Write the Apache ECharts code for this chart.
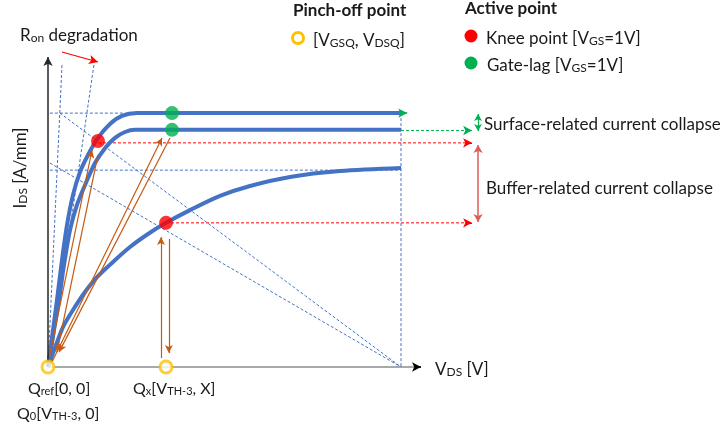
<!DOCTYPE html>
<html><head><meta charset="utf-8">
<script src="https://cdn.jsdelivr.net/npm/echarts@6/dist/echarts.min.js"></script>
<style>html,body{margin:0;padding:0;background:#fff}#c{width:727px;height:429px}</style>
</head><body><div id="c"></div>
<script>
// ---- data (normalised V_DS / I_DS units) ----
const curveRef = [[0,0],[1.34,11.9],[2.41,21.6],[3.75,34.5],[5.09,45.8],[6.7,55.5],[8.58,62.9],[10.72,68.4],[13.4,73.9],[16.62,78.4],[19.84,81.0],[23.86,81.9],[40,81.9],[94.64,81.9]];
const curveGateLag = [[0,0],[1.61,11.9],[2.95,21.6],[4.29,32.9],[5.9,44.2],[7.77,52.3],[9.92,58.7],[12.6,65.8],[15.28,70.6],[17.96,73.9],[20.64,75.8],[23.32,76.5],[40,76.5],[94.64,76.5]];
const curveBuffer = [[0,0],[2.14,7.1],[4.02,12.9],[6.7,18.4],[9.92,24.2],[13.14,29.0],[17.43,33.9],[21.98,38.7],[26.81,42.9],[31.64,46.5],[38.07,50.6],[46.11,55.2],[54.16,58.4],[64.88,61.3],[78.28,63.2],[94.64,64.2]];
const kneePoints = [[13.4,72.9],[31.64,46.5]];
const gateLagPoints = [[33.24,81.9],[33.24,76.5]];
const pinchOffPoints = [[0,0],[31.64,0]];
const blueGuides = [
  [[0.5,81.9],[23.9,81.9]],
  [[0.5,63.5],[94.64,63.5]],
  [[94.64,81.9],[94.64,0]],
  [[3.2,81.9],[94.64,0]],
  [[0.5,65.8],[94.64,0]],
  [[3.75,97.4],[0,0]],
  [[12.3,97.4],[0.5,0]]
];
const orangeArrows = [
  [[0.3,2.9],[11.8,70.0]],
  [[13.4,68.4],[2.4,4.8]],
  [[1.07,1.6],[30.56,73.9]],
  [[32.7,73.9],[2.95,4.8]],
  [[30.3,2.9],[30.3,41.9]],
  [[32.4,41.3],[32.4,4.5]]
];
const redGuides = [[[13.4,72.3],[113.0,72.3]],[[31.64,46.5],[113.0,46.5]]];
const redGuideHeads = [[[112.0,72.3],[113.7,72.3]],[[112.0,46.5],[113.7,46.5]]];
const greenGuides = [[[94.64,76.3],[113.0,76.3]]];
const greenGuideHeads = [[[112.0,76.3],[113.7,76.3]]];
const greenEndArrow = [[[94.64,81.9],[96.3,81.9]]];
const surfaceSpan = [[[115.3,81.6],[115.3,76.1]]];
const bufferSpan = [[[115.3,71.6],[115.3,46.8]]];
const ronArrow = [[[3.75,101.6],[13.4,98.4]]];
const xAxisLine = [[[0,0],[100,0]]];
const xAxisHead = [[[98.5,0],[100,0]]];
const yAxisLine = [[[0,0],[0,100]]];

const FONT = 'Lato, "Open Sans", sans-serif';
const BLUE = '#4472C4', ORANGE = '#C55A11', RED = '#FF0000', GREEN = '#00B050', GOLD = '#FFC000';

const chart = echarts.init(document.getElementById('c'), null, {renderer:'canvas'});

function lineSeries(pts, color, width, type, z, smooth){
  return {type:'line', data:pts, showSymbol:false, symbol:'none', smooth: smooth||false,
    clip:false, silent:true, z:z, color:color,
    lineStyle:{color:color, width:width, type:type}};
}
function markSeries(segs, color, width, type, symbols, size, z){
  const ls = {color:color, width:width, type:type, opacity:1};
  return {type:'line', data:[], clip:false, silent:true, z:z, color:color,
    markLine:{silent:true, animation:false, symbol:symbols, symbolSize:size,
      label:{show:false}, emphasis:{disabled:true},
      itemStyle:{color:color},
      lineStyle:ls,
      data: segs.map(s => [{coord:s[0], lineStyle:ls},{coord:s[1]}])}};
}

const series = [];
blueGuides.forEach(g => series.push(lineSeries(g, BLUE, 1, [3,2], 1)));
redGuides.forEach(g => series.push(lineSeries(g, RED, 1, [3,2], 2)));
greenGuides.forEach(g => series.push(lineSeries(g, GREEN, 1, [3,2], 2)));
series.push(markSeries(redGuideHeads, RED, 1, 'solid', ['none','arrow'], [7,9], 2));
series.push(markSeries(greenGuideHeads, GREEN, 1, 'solid', ['none','arrow'], [7,9], 2));
series.push(lineSeries(curveRef, BLUE, 4, 'solid', 3, 0.3));
series.push(lineSeries(curveGateLag, BLUE, 4, 'solid', 3, 0.3));
series.push(lineSeries(curveBuffer, BLUE, 4, 'solid', 3, 0.3));
series.push(markSeries(greenEndArrow, GREEN, 1.5, 'solid', ['none','arrow'], [7,9], 4));
series.push(markSeries(orangeArrows, ORANGE, 1.2, 'solid', ['none','arrow'], [6,8], 5));
series.push(markSeries(surfaceSpan, GREEN, 1.2, 'solid', ['arrow','arrow'], [6,7], 5));
series.push(markSeries(bufferSpan, '#E05A5A', 1.5, 'solid', ['arrow','arrow'], [7,8], 5));
series.push(markSeries(ronArrow, RED, 1.2, 'solid', ['none','arrow'], [7,9], 5));
series.push(markSeries(xAxisLine, '#8C8C8C', 1.5, 'solid', ['none','none'], 1, 2));
series.push(markSeries(xAxisHead, '#000000', 1.5, 'solid', ['none','arrow'], [7,9], 2));
series.push(markSeries(yAxisLine, '#262626', 1.5, 'solid', ['none','arrow'], [7,9], 2));
series.push({type:'scatter', data:kneePoints, symbolSize:14, itemStyle:{color:RED}, z:10, silent:true});
series.push({type:'scatter', data:gateLagPoints, symbolSize:14, itemStyle:{color:GREEN}, z:10, silent:true});
series.push({type:'scatter', data:pinchOffPoints, symbolSize:12, itemStyle:{color:'#ffffff', borderColor:GOLD, borderWidth:3}, z:10, silent:true});

function rich(fs, sub){
  return {
    n:{fontSize:fs, fontFamily:FONT, fill:'#1a1a1a', lineHeight:fs+6, verticalAlign:'bottom'},
    s:{fontSize:sub, fontFamily:FONT, fill:'#1a1a1a', lineHeight:sub, verticalAlign:'bottom'},
    b:{fontSize:fs, fontFamily:FONT, fontWeight:'bold', fill:'#1a1a1a'}
  };
}
function txt(x, y, str, fs, extra){
  fs = fs || 17;
  return Object.assign({type:'text', x:x, y:y, silent:true, z:20,
    style:{text:str, fontSize:fs, fontFamily:FONT, fill:'#1a1a1a', verticalAlign:'middle', align:'left', rich:rich(fs, Math.round(fs*0.68))}}, extra||{});
}
const ylab = txt(18, 168, '{n|I}{s|DS}{n| [A/mm]}', 17, {rotation: Math.PI/2});
ylab.style.align = 'center';
const graphics = [
  txt(20, 33, '{n|R}{s|on}{n| degradation}', 17),
  txt(293, 11, '{b|Pinch-off point}', 17),
  txt(313, 38, '{n|[V}{s|GSQ}{n|, V}{s|DSQ}{n|]}', 17),
  txt(465, 9, '{b|Active point}', 17),
  txt(486, 36, '{n|Knee point [V}{s|GS}{n|=1V]}', 17),
  txt(487, 63, '{n|Gate-lag [V}{s|GS}{n|=1V]}', 17),
  txt(484, 122, '{n|Surface-related current collapse}', 17),
  txt(486, 186, '{n|Buffer-related current collapse}', 17),
  txt(435, 367, '{n|V}{s|DS}{n| [V]}', 17),
  txt(28, 386, '{n|Q}{s|ref}{n|[0, 0]}', 16),
  txt(17, 411, '{n|Q}{s|0}{n|[V}{s|TH-3}{n|, 0]}', 16),
  txt(133, 386, '{n|Q}{s|x}{n|[V}{s|TH-3}{n|, X]}', 16),
  ylab,
  {type:'circle', shape:{cx:298, cy:38, r:5.5}, style:{fill:'#fff', stroke:GOLD, lineWidth:3}, z:20, silent:true},
  {type:'circle', shape:{cx:471, cy:36, r:6.5}, style:{fill:RED}, z:20, silent:true},
  {type:'circle', shape:{cx:471, cy:63, r:6.5}, style:{fill:GREEN}, z:20, silent:true}
];

chart.setOption({
  animation:false,
  backgroundColor:'#ffffff',
  grid:{left:48, top:41.5, width:447.6, height:325.5, containLabel:false},
  xAxis:{type:'value', min:0, max:120, axisLine:{show:false}, axisTick:{show:false}, axisLabel:{show:false}, splitLine:{show:false}},
  yAxis:{type:'value', min:0, max:105, axisLine:{show:false}, axisTick:{show:false}, axisLabel:{show:false}, splitLine:{show:false}},
  series: series,
  graphic: graphics
});
</script></body></html>
